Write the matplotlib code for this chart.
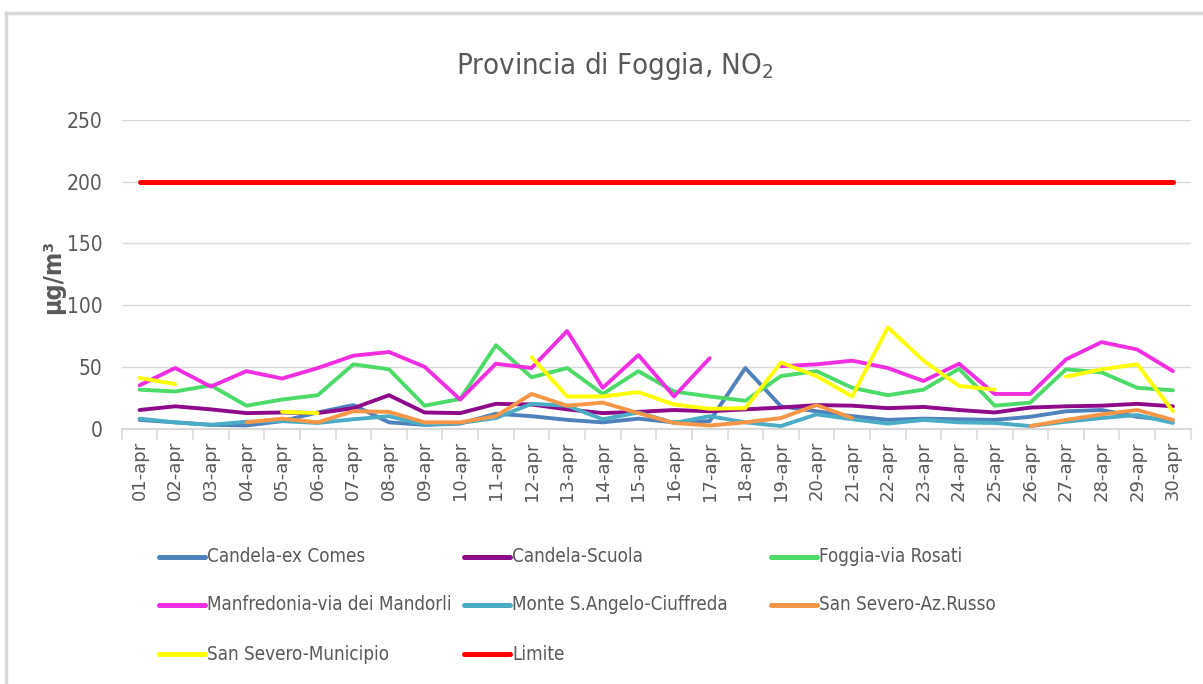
import numpy as np
import matplotlib.pyplot as plt
from matplotlib.lines import Line2D

nan = np.nan

days = [f"{d:02d}-apr" for d in range(1, 31)]

candela_ex_comes = [7, 5, 3, 2.5, 6, 13, 19, 5, 3, 4, 12, 10, 7, 5, 8, 5, 6, 49, 18, 14,
                    10, 7, 8, 7.5, 7, 9.5, 14, 15, 9.5, 6.5]
candela_scuola = [15, 18, 15.5, 12.5, 13, 12.5, 16.5, 27, 13, 12.5, 20, 19.5, 15.5, 12.5, 13.5,
                  15, 14, 15.5, 17, 19, 18.5, 16.5, 17.5, 15, 13, 17, 18, 18.5, 20, 18]
foggia_rosati = [31.5, 30, 35, 18.5, 23.5, 27, 52, 48, 18.5, 24, 67.5, 41.5, 49, 28, 46.5,
                 30, 26, 22.5, 42.5, 46.5, 33, 27, 31.5, 48.5, 18.5, 21, 48, 45.5, 33, 31]
manfredonia = [35, 49, 34, 46.5, 40.5, 49, 59, 62, 50, 23.5, 52.5, 49, 79, 33, 59.5,
               26, 57, nan, 50.5, 52, 55, 49, 38.5, 52.5, 28, 28, 56, 70, 64, 46.5]
monte_sangelo = [8, 5, 3, 5.5, 6, 4.5, 7.5, 10, 3, 4.5, 8.5, 20, 18.5, 7.5, 13,
                 4.5, 10, 5, 2, 11.5, 7.5, 4, 7, 5, 4.5, 2, 5.5, 8.5, 11, 4.5]
san_severo_russo = [nan, nan, nan, 5, 8, 5, 14, 13.5, 5, 5, 10, 28, 18.5, 21, 12.5,
                    4.5, 2.5, 5, 8.5, 19, 8.5, nan, nan, nan, nan, 2, 7, 11.5, 15, 7]
san_severo_municipio = [41, 36, nan, nan, 13.5, 12.5, nan, nan, nan, nan, nan, 58, 26, 26, 29.5,
                        19.5, 16, 16.5, 53.5, 42.5, 26, 82, 55, 34.5, 31.5, nan, 42, 48, 52, 14]
limite = [200] * 30

series = [
    ("Candela-ex Comes", candela_ex_comes, "#4F81BD"),
    ("Candela-Scuola", candela_scuola, "#8E0A8A"),
    ("Foggia-via Rosati", foggia_rosati, "#4CDB68"),
    ("Manfredonia-via dei Mandorli", manfredonia, "#F22EE2"),
    ("Monte S.Angelo-Ciuffreda", monte_sangelo, "#4BACC6"),
    ("San Severo-Az.Russo", san_severo_russo, "#F79646"),
    ("San Severo-Municipio", san_severo_municipio, "#FFFF00"),
    ("Limite", limite, "#FF0000"),
]

plt.rcParams['font.family'] = ['DejaVu Sans']
plt.rcParams['font.stretch'] = 'condensed'
text_gray = "#595959"
grid_gray = "#D9D9D9"

fig = plt.figure(figsize=(12.03, 6.84), dpi=100)
ax = fig.add_axes([0.1012, 0.3735, 0.8886, 0.4511])

x = np.arange(len(days))
lines = []
for name, values, color in series:
    lw = 3.6 if name == "Limite" else 2.8
    ln, = ax.plot(x, values, color=color, lw=lw, solid_capstyle="round",
                  solid_joinstyle="round", label=name)
    lines.append(ln)

ax.set_xlim(-0.5, len(days) - 0.5)
ax.set_ylim(0, 250)
ax.set_yticks(range(0, 251, 50))
ax.yaxis.grid(True, color=grid_gray, lw=1)
ax.set_axisbelow(True)
for side in ["left", "right", "top"]:
    ax.spines[side].set_visible(False)
ax.spines["bottom"].set_color(grid_gray)
ax.spines["bottom"].set_linewidth(1.5)

ax.set_xticks(x)
ax.set_xticklabels(days, rotation=90, fontsize=13, color=text_gray, fontstretch="normal")
ax.set_xticks(np.arange(-0.5, len(days)), minor=True)
ax.tick_params(axis="x", which="major", length=0, pad=9)
ax.tick_params(axis="x", which="minor", length=8, color=grid_gray, width=1.2)
ax.tick_params(axis="y", length=0, pad=14, labelsize=15, labelcolor=text_gray)

ax.set_ylabel("µg/m³", fontsize=18, fontweight="bold", color=text_gray)
ax.yaxis.set_label_coords(-0.053, 0.49)

fig.text(0.511, 0.903, "Provincia di Foggia, NO$_2$", ha="center", va="center",
         fontsize=21, color=text_gray)

# legend laid out row by row, three columns
col_x = [159, 464, 771]
row_y = [557, 605, 654]
W, H = 1203, 684
for i, ln in enumerate(lines):
    r, c = divmod(i, 3)
    x0 = col_x[c]
    y0 = row_y[r]
    fig.add_artist(Line2D([x0 / W, (x0 + 46) / W], [1 - y0 / H, 1 - y0 / H],
                          color=ln.get_color(), lw=3.6, solid_capstyle="round"))
    fig.text((x0 + 48) / W, 1 - y0 / H, ln.get_label(), ha="left", va="center",
             fontsize=13.5, color=text_gray)

# chart frame
fig.add_artist(Line2D([6 / W, 1], [1 - 13 / H, 1 - 13 / H], color=grid_gray, lw=2.5))
fig.add_artist(Line2D([6 / W, 6 / W], [0, 1 - 13 / H], color=grid_gray, lw=2.5))

fig.savefig("out.png", dpi=100)
